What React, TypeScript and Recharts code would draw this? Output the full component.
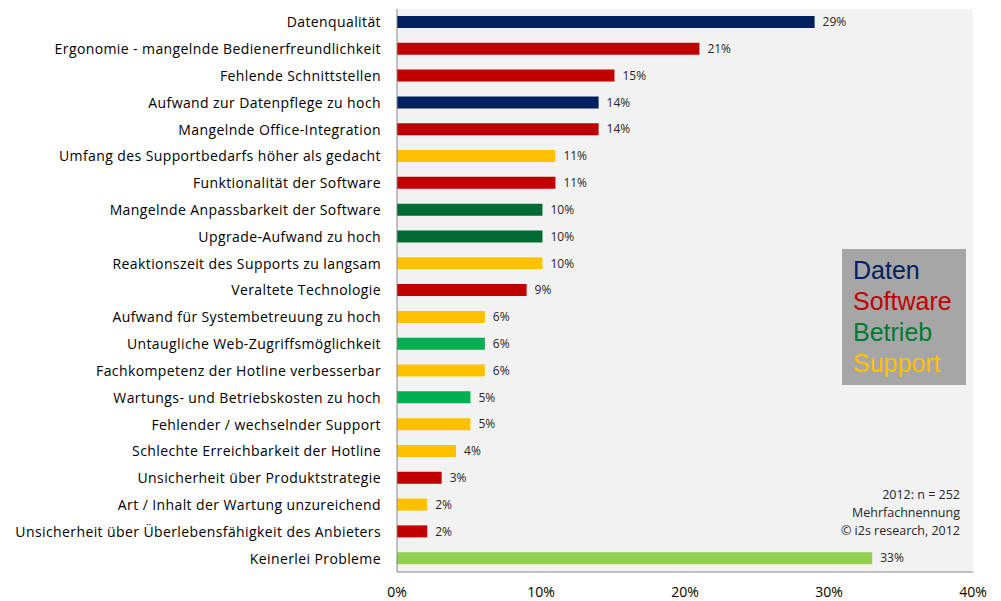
import React from "react";
import {
  BarChart,
  Bar,
  XAxis,
  YAxis,
  CartesianGrid,
  Cell,
  LabelList,
} from "recharts";

// Kategorien, Werte (in %) und Gruppe je Balken
const categories = [
  "Datenqualität",
  "Ergonomie - mangelnde Bedienerfreundlichkeit",
  "Fehlende Schnittstellen",
  "Aufwand zur Datenpflege zu hoch",
  "Mangelnde Office-Integration",
  "Umfang des Supportbedarfs  höher als gedacht",
  "Funktionalität der Software",
  "Mangelnde Anpassbarkeit der Software",
  "Upgrade-Aufwand zu hoch",
  "Reaktionszeit des Supports  zu langsam",
  "Veraltete Technologie",
  "Aufwand für Systembetreuung zu hoch",
  "Untaugliche Web-Zugriffsmöglichkeit",
  "Fachkompetenz der Hotline verbesserbar",
  "Wartungs- und Betriebskosten zu hoch",
  "Fehlender / wechselnder Support",
  "Schlechte Erreichbarkeit der Hotline",
  "Unsicherheit über Produktstrategie",
  "Art / Inhalt der Wartung  unzureichend",
  "Unsicherheit über Überlebensfähigkeit des  Anbieters",
  "Keinerlei Probleme",
];

const values = [
  29, 21, 15.1, 14, 14, 11, 11, 10.1, 10.1, 10.1, 9, 6.1, 6.1, 6.1, 5.1, 5.1,
  4.1, 3.1, 2.1, 2.1, 33,
];

const groups = [
  "daten", "software", "software", "daten", "software", "support", "software",
  "betrieb", "betrieb", "support", "software", "support", "betrieb2", "support",
  "betrieb2", "support", "support", "software", "support", "software", "keine",
];

const xTicks = [0, 10, 20, 30, 40];

const legendItems = ["Daten", "Software", "Betrieb", "Support"];

const noteLines = ["2012: n = 252", "Mehrfachnennung", "© i2s research, 2012"];

const colors: Record<string, string> = {
  daten: "#002060",
  software: "#c00000",
  betrieb: "#006a32",
  betrieb2: "#00b050",
  support: "#ffc000",
  keine: "#92d050",
};

const legendColors = ["#002060", "#c00000", "#007a33", "#ffc000"];

const data = categories.map((name, i) => ({
  name,
  value: values[i],
  group: groups[i],
}));

const font = "'Open Sans', sans-serif";

export default function App() {
  return (
    <div style={{ position: "absolute", left: 0, top: 0, width: 1001, height: 601, background: "#fff" }}>
      <BarChart
        width={1001}
        height={601}
        data={data}
        layout="vertical"
        margin={{ top: 9, right: 28, left: 0, bottom: 0 }}
        barCategoryGap={15}
      >
        <CartesianGrid fill="#f2f2f2" horizontal={false} vertical={false} />
        <XAxis
          type="number"
          domain={[0, 40]}
          ticks={xTicks}
          tickFormatter={(v) => `${v}%`}
          axisLine={{ stroke: "#868686" }}
          tickLine={false}
          height={29}
          tickMargin={9}
          tick={{ fill: "#000", fontSize: 14, fontFamily: font }}
          interval={0}
        />
        <YAxis
          type="category"
          dataKey="name"
          width={397}
          axisLine={{ stroke: "#868686" }}
          tickLine={false}
          tickSize={0}
          tickMargin={16}
          interval={0}
          tick={{ fill: "#000", fontSize: 14, fontFamily: font, letterSpacing: 0.4 }}
        />
        <Bar dataKey="value" barSize={12} isAnimationActive={false}>
          {data.map((d, i) => (
            <Cell key={i} fill={colors[d.group]} />
          ))}
          <LabelList
            dataKey="value"
            position="right"
            offset={8}
            formatter={(v: any) => `${Math.round(Number(v))}%`}
            style={{ fill: "#262626", fontSize: 12, fontFamily: font }}
          />
        </Bar>
      </BarChart>
      <div
        style={{
          position: "absolute",
          left: 842,
          top: 249,
          width: 124,
          height: 136,
          background: "#a6a6a6",
          fontFamily: "'Liberation Sans', Arial, sans-serif",
          fontSize: 25,
          lineHeight: "31px",
          paddingTop: 6,
          paddingLeft: 11,
          boxSizing: "border-box",
        }}
      >
        {legendItems.map((t, i) => (
          <div key={t} style={{ color: legendColors[i] }}>
            {t}
          </div>
        ))}
      </div>
      <div
        style={{
          position: "absolute",
          right: 1001 - 960,
          top: 486,
          textAlign: "right",
          fontFamily: font,
          fontSize: 12.5,
          lineHeight: "18px",
          color: "#262626",
          whiteSpace: "nowrap",
        }}
      >
        {noteLines.map((t) => (
          <div key={t}>{t}</div>
        ))}
      </div>
    </div>
  );
}
